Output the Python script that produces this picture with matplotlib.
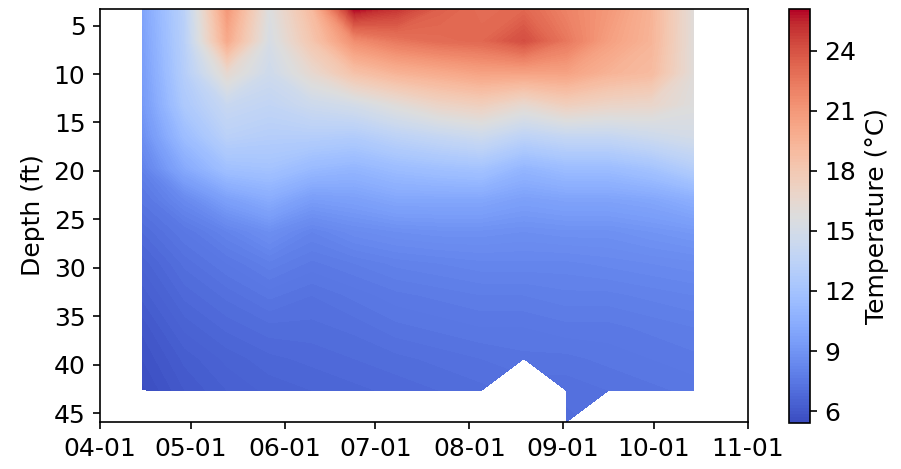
import numpy as np
import matplotlib
matplotlib.use("Agg")
import matplotlib.pyplot as plt
import matplotlib.dates as mdates
from datetime import date

plt.rcParams["font.size"] = 12

# sampling dates (every two weeks) and profile depths in metres
dates = ["2023-04-15", "2023-04-29", "2023-05-13", "2023-05-27", "2023-06-10",
         "2023-06-24", "2023-07-08", "2023-07-22", "2023-08-05", "2023-08-19",
         "2023-09-02", "2023-09-16", "2023-09-30", "2023-10-14"]
depth_m = [1, 2, 3, 4, 5, 6, 7, 8, 9, 10, 11, 12, 13, 14]

# temperature profiles (degC) from 1 m downward, one list per date
t_0415 = [9.8, 9.6, 9.4, 9.2, 8.7, 8.0, 7.4, 6.9, 6.5, 6.2, 5.9, 5.7, 5.5]
t_0429 = [13.3, 13.2, 13.0, 12.5, 11.5, 10.2, 8.4, 7.5, 7.1, 6.8, 6.5, 6.2, 6.0]
t_0513 = [21.0, 20.0, 16.5, 14.2, 13.3, 11.8, 9.6, 8.1, 7.5, 7.1, 6.8, 6.5, 6.3]
t_0527 = [15.6, 15.2, 14.6, 13.8, 13.0, 12.0, 10.3, 8.7, 7.9, 7.4, 7.0, 6.7, 6.5]
t_0610 = [19.0, 18.2, 16.5, 14.5, 13.0, 11.3, 9.4, 8.1, 7.6, 7.2, 7.0, 6.8, 6.6]
t_0624 = [26.1, 21.5, 18.5, 15.0, 12.8, 11.0, 9.6, 8.5, 7.8, 7.4, 7.1, 6.9, 6.7]
t_0708 = [25.0, 22.5, 19.5, 16.0, 13.5, 11.5, 10.0, 8.7, 8.0, 7.6, 7.3, 7.0, 6.8]
t_0722 = [23.5, 23.0, 20.0, 17.0, 14.0, 11.8, 10.0, 8.8, 8.1, 7.7, 7.4, 7.1, 6.9]
t_0805 = [23.0, 23.2, 20.5, 17.5, 14.5, 12.0, 10.0, 8.8, 8.2, 7.8, 7.5, 7.2, 7.0]
t_0819 = [23.2, 24.2, 20.5, 16.5, 13.5, 11.0, 9.6, 8.7, 8.2, 7.8, 7.5, 7.3]
t_0902 = [22.0, 22.5, 20.5, 17.5, 14.0, 11.5, 9.8, 8.8, 8.2, 7.9, 7.6, 7.3, 7.1, 7.0]
t_0916 = [21.0, 20.6, 19.5, 17.0, 14.0, 11.5, 9.8, 8.8, 8.3, 7.9, 7.6, 7.4, 7.2]
t_0930 = [19.5, 19.4, 19.0, 16.8, 14.5, 12.0, 10.0, 9.0, 8.4, 8.0, 7.7, 7.5, 7.3]
t_1014 = [16.0, 16.0, 16.0, 15.8, 15.0, 13.0, 10.5, 9.2, 8.5, 8.1, 7.8, 7.6, 7.4]

profiles = [t_0415, t_0429, t_0513, t_0527, t_0610, t_0624, t_0708,
            t_0722, t_0805, t_0819, t_0902, t_0916, t_0930, t_1014]

# grid: rows = depth, cols = date, NaN where profile is shorter
grid = np.full((len(depth_m), len(dates)), np.nan)
for j, prof in enumerate(profiles):
    grid[:len(prof), j] = prof
grid = np.ma.masked_invalid(grid)

x = mdates.date2num(np.array(dates, dtype="datetime64[D]"))
y = np.array(depth_m) * 3.28084
X, Y = np.meshgrid(x, y)

fig = plt.figure(figsize=(9.01 / 1.5, 4.69 / 1.5), dpi=150)
ax = fig.add_axes([0.111, 0.100, 0.719, 0.881])
cax = fig.add_axes([0.876, 0.098, 0.023, 0.883])

cf = ax.contourf(X, Y, grid, levels=200, cmap="coolwarm")
ax.set_ylim(y.max(), y.min())
ax.set_xlim(mdates.date2num(date(2023, 4, 1)), mdates.date2num(date(2023, 11, 1)))
ax.xaxis.set_major_locator(mdates.MonthLocator())
ax.xaxis.set_major_formatter(mdates.DateFormatter("%m-%d"))
ax.set_yticks(np.arange(5, 50, 5))
ax.set_ylabel("Depth (ft)")

cb = fig.colorbar(cf, cax=cax)
cb.set_ticks([6, 9, 12, 15, 18, 21, 24])
cb.set_label("Temperature (°C)")

plt.savefig("out.png", dpi=150)
